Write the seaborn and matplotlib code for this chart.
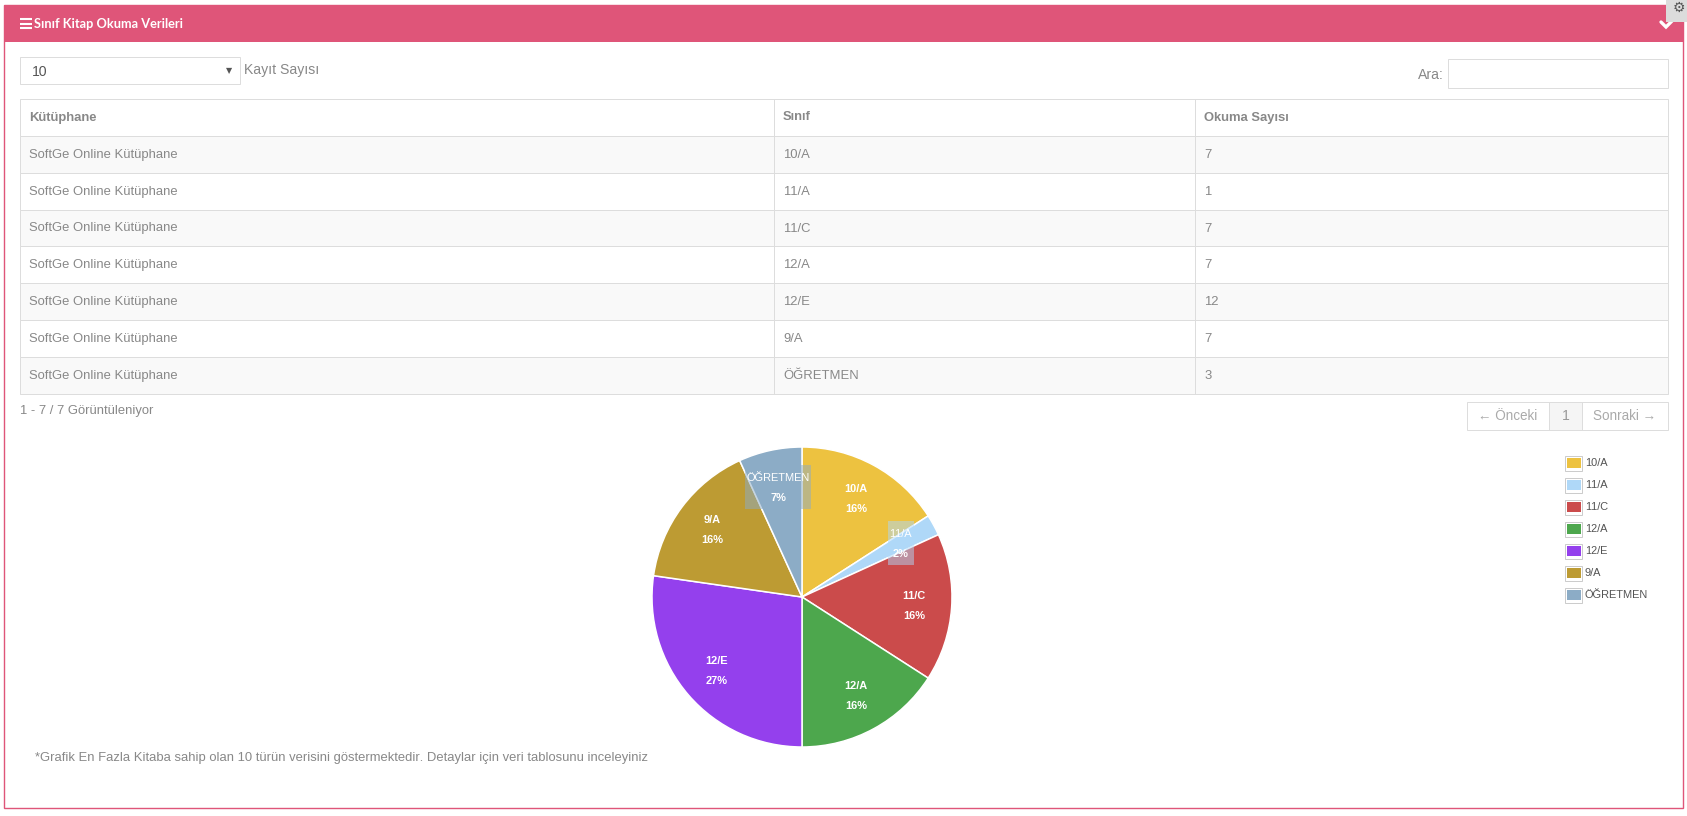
"""Class reading panel: data table and pie chart."""
import matplotlib
matplotlib.use("Agg")
import matplotlib.pyplot as plt
from matplotlib.patches import Rectangle
import numpy as np
import seaborn as sns

library = "SoftGe Online Kütüphane"
columns = ["Kütüphane", "Sınıf", "Okuma Sayısı"]
classes = ["10/A", "11/A", "11/C", "12/A", "12/E", "9/A", "ÖĞRETMEN"]
reads = [7, 1, 7, 7, 12, 7, 3]
colors = ["#edc240", "#afd8f8", "#cb4b4b", "#4da74d", "#9440ed", "#bd9b33", "#8cacc6"]
small_labels = ["11/A", "ÖĞRETMEN"]

W, H = 1687, 816
PINK = "#df5579"
TEXT = "#888888"
LINE = "#dddddd"

sns.set_theme(style="white")
sns.set_palette(colors)
plt.rcParams["font.family"] = ["Liberation Sans", "DejaVu Sans"]
plt.rcParams["text.kerning_factor"] = 16


def px(size):
    return size * 0.72


fig = plt.figure(figsize=(W / 100, H / 100), dpi=100, facecolor="white")
page = fig.add_axes([0, 0, 1, 1])
page.set_xlim(0, W)
page.set_ylim(H, 0)
page.axis("off")


def box(x0, y0, x1, y1, fc="white", ec=LINE, lw=0.72, z=1):
    page.add_patch(Rectangle((x0, y0), x1 - x0, y1 - y0, fc=fc, ec=ec, lw=lw, zorder=z))


def label(x, y, s, size=13, color=TEXT, ha="left", **kw):
    page.text(x, y + 0.5, s, fontsize=px(size), color=color, ha=ha, va="center", zorder=5, **kw)


# panel and header
box(4.5, 5, 1683, 808, ec=PINK, lw=1.0)
box(4, 5, 1683.5, 42, fc=PINK, ec=PINK, lw=0, z=2)
for y in (19, 23.5, 27.5):
    page.plot([20, 32], [y, y], color="white", lw=1.5, zorder=3, solid_capstyle="butt")
label(34, 23.5, "Sınıf Kitap Okuma Verileri", size=12.7, color="white", family="Lato", fontweight="bold")
page.plot([1661, 1666, 1672], [22, 27, 21], color="white", lw=2.4, zorder=3, solid_joinstyle="miter")
box(1666, 0, 1687, 22, fc="#dcdcdc", ec="none", lw=0, z=3)
page.text(1679, 8, "\u2699", fontsize=px(14), color="#555555", ha="center", va="center", zorder=4,
          family="DejaVu Sans")

# length select and search
box(20, 56.5, 240, 84)
label(32, 71, "10", size=14, color="#555555")
page.text(229, 71, "\u25bc", fontsize=px(8), color="#555555", ha="center", va="center",
          family="DejaVu Sans", zorder=5)
label(244, 69.5, "Kayıt Sayısı", size=14)
label(1444, 74.5, "Ara:", size=14, ha="right")
box(1448.5, 59, 1668, 88)

# table
table_x = [20, 774, 1195, 1668]
top, head_bottom, row_h = 99, 136, 36.8
box(table_x[0], top, table_x[-1], head_bottom)
for i, name in enumerate(columns):
    label(table_x[i] + 9, 117, name, fontweight="bold")
for i, (cls, n) in enumerate(zip(classes, reads)):
    y0 = head_bottom + i * row_h
    box(table_x[0], y0, table_x[-1], y0 + row_h, fc="#f9f9f9" if i % 2 == 0 else "white")
    ym = y0 + row_h / 2
    label(table_x[0] + 9, ym, library)
    label(table_x[1] + 9, ym, cls)
    label(table_x[2] + 9, ym, str(n))
for x in table_x[1:-1]:
    page.plot([x, x], [top, head_bottom + len(classes) * row_h], color=LINE, lw=0.72, zorder=2)

# table footer and pagination
label(20, 410.5, "1 - 7 / 7 Görüntüleniyor")
box(1467, 402, 1668, 430)
box(1549, 402, 1582, 430, fc="#f5f5f5")
label(1508, 415.5, "\u2190 Önceki", size=13.5, color="#aaaaaa", ha="center", family=["Liberation Sans", "DejaVu Sans"])
label(1565.5, 415.5, "1", size=14, color="#999999", ha="center")
label(1625, 415.5, "Sonraki \u2192", size=13.5, color="#aaaaaa", ha="center", family=["Liberation Sans", "DejaVu Sans"])

# legend
for i, (cls, col) in enumerate(zip(classes, colors)):
    y = 463 + i * 22
    box(1565.5, y - 7.5, 1582.5, y + 7.5, fc="white", ec="#cccccc")
    box(1567.5, y - 5, 1581, y + 5, fc=col, ec="none", lw=0, z=2)
    label(1585, y, cls, size=11, color="#545454")

label(35, 758, "*Grafik En Fazla Kitaba sahip olan 10 türün verisini göstermektedir. "
      "Detaylar için veri tablosunu inceleyiniz", size=13.05)

# pie
cx, cy, r = 802, 597, 150
pie_ax = fig.add_axes([(cx - r - 2) / W, 1 - (cy + r + 2) / H, (2 * r + 4) / W, (2 * r + 4) / H])
wedges, _ = pie_ax.pie(reads, colors=colors, radius=1, center=(0, 0), startangle=90, counterclock=False,
                       wedgeprops={"edgecolor": "white", "linewidth": 1.1})
pie_ax.set_xlim(-(r + 2) / r, (r + 2) / r)
pie_ax.set_ylim(-(r + 2) / r, (r + 2) / r)
pie_ax.set_aspect("equal")
pie_ax.axis("off")

total = sum(reads)
for wedge, cls, n, col in zip(wedges, classes, reads, colors):
    ang = np.deg2rad((wedge.theta1 + wedge.theta2) / 2)
    x, y = 0.75 * np.cos(ang), 0.75 * np.sin(ang)
    if cls in small_labels:
        w = (66 if cls == "ÖĞRETMEN" else 26) / r
        h = 44 / r
        pie_ax.add_patch(Rectangle((x - w / 2, y - h / 2), w, h, fc=col, ec="none", alpha=0.5, zorder=3))
    pie_ax.text(x, y + 9.5 / r, cls, fontsize=px(11), color="white", ha="center", va="center",
                fontweight="bold" if cls not in small_labels else "normal", zorder=4)
    pie_ax.text(x, y - 10.5 / r, f"{round(100 * n / total)}%", fontsize=px(11), color="white",
                ha="center", va="center", fontweight="bold", zorder=4)

fig.savefig("out.png", dpi=100)
plt.close(fig)
